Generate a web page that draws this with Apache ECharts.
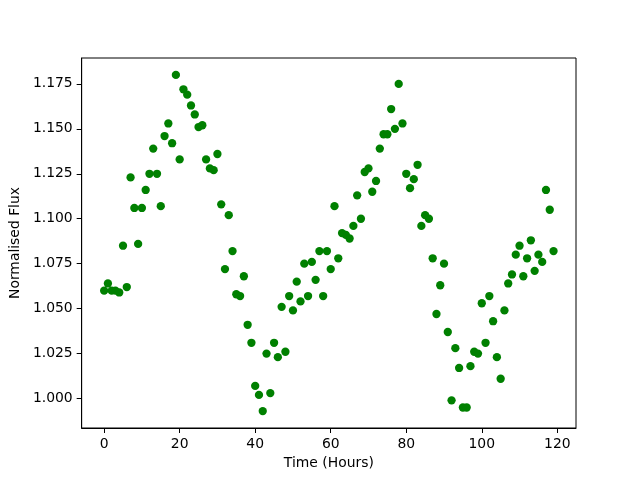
<!DOCTYPE html>
<html>
<head>
<meta charset="utf-8">
<script src="https://cdn.jsdelivr.net/npm/echarts@6/dist/echarts.min.js"></script>
<style>
  html, body { margin: 0; padding: 0; background: #fff; }
  #flux { width: 640px; height: 480px; }
</style>
</head>
<body>
<div id="flux"></div>
<script>
// hours since start of observation
const hours = [];
for (let h = 0; h < 120; h++) hours.push(h);

// normalised flux
const flux = [
  1.060, 1.064, 1.060, 1.060, 1.059, 1.085, 1.062, 1.123, 1.106, 1.086,
  1.106, 1.116, 1.125, 1.139, 1.125, 1.107, 1.146, 1.153, 1.142, 1.180,
  1.133, 1.172, 1.169, 1.163, 1.158, 1.151, 1.152, 1.133, 1.128, 1.127,
  1.136, 1.108, 1.072, 1.102, 1.082, 1.058, 1.057, 1.068, 1.041, 1.031,
  1.007, 1.002, 0.993, 1.025, 1.003, 1.031, 1.023, 1.051, 1.026, 1.057,
  1.049, 1.065, 1.054, 1.075, 1.057, 1.076, 1.066, 1.082, 1.057, 1.082,
  1.072, 1.107, 1.078, 1.092, 1.091, 1.089, 1.096, 1.113, 1.100, 1.126,
  1.128, 1.115, 1.121, 1.139, 1.147, 1.147, 1.161, 1.150, 1.175, 1.153,
  1.125, 1.117, 1.122, 1.130, 1.096, 1.102, 1.100, 1.078, 1.047, 1.063,
  1.075, 1.037, 0.999, 1.028, 1.017, 0.995, 0.995, 1.018, 1.026, 1.025,
  1.053, 1.031, 1.057, 1.043, 1.023, 1.011, 1.049, 1.064, 1.069, 1.080,
  1.085, 1.068, 1.078, 1.088, 1.071, 1.080, 1.076, 1.116, 1.105, 1.082
];

const xTicks = [0, 20, 40, 60, 80, 100, 120];
const yTicks = [1.000, 1.025, 1.050, 1.075, 1.100, 1.125, 1.150, 1.175];

const font = 'DejaVu Sans';
const points = hours.map((h, i) => [h, flux[i]]);

const chart = echarts.init(document.getElementById('flux'), null, { renderer: 'canvas' });

// matplotlib-like axis settings
function axisCommon(ticks, fmt) {
  return {
    axisLine: { show: true, onZero: false, lineStyle: { color: '#000', width: 1 } },
    axisTick: { show: true, inside: false, length: 5, customValues: ticks, lineStyle: { color: '#000', width: 1 } },
    axisLabel: { customValues: ticks, color: '#000', fontFamily: font, fontSize: 13.9, margin: 9, formatter: fmt },
    splitLine: { show: false },
    nameTextStyle: { color: '#000', fontFamily: font, fontSize: 13.9 }
  };
}

const option = {
  animation: false,
  backgroundColor: '#fff',
  grid: {
    left: 80, right: 64, top: 58, bottom: 52,
    show: true, borderColor: '#000', borderWidth: 1, backgroundColor: 'transparent'
  },
  xAxis: Object.assign(axisCommon(xTicks, v => String(v)), {
    type: 'value',
    min: -5.95,
    max: 124.95,
    name: 'Time (Hours)',
    nameLocation: 'middle',
    nameGap: 27
  }),
  yAxis: Object.assign(axisCommon(yTicks, v => v.toFixed(3)), {
    type: 'value',
    min: 0.9836,
    max: 1.1894,
    name: 'Normalised Flux',
    nameLocation: 'middle',
    nameGap: 54
  }),
  series: [{
    type: 'scatter',
    data: points,
    symbol: 'circle',
    symbolSize: 8.3,
    itemStyle: { color: '#008000', opacity: 1 }
  }]
};

chart.setOption(option);
</script>
</body>
</html>
